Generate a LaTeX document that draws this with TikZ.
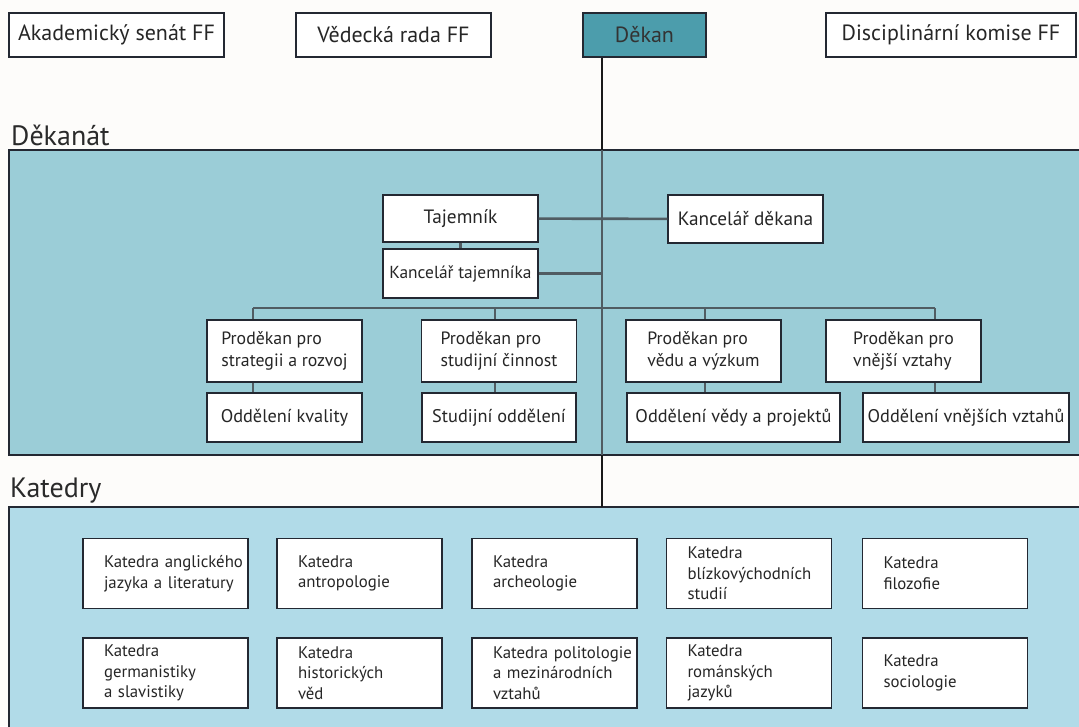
\documentclass[tikz,border=0pt]{standalone}
\usepackage{fontspec}
\setmainfont{PT Sans}

\definecolor{paper}{HTML}{FDFCFA}
\definecolor{dekfill}{HTML}{9BCDD7}
\definecolor{katfill}{HTML}{B1DBE8}
\definecolor{dekanfill}{HTML}{4C9DAC}
\definecolor{boxline}{HTML}{232832}
\definecolor{linkgray}{HTML}{505C62}
\definecolor{headtext}{HTML}{2A2A2A}

\newcommand{\nohyph}{\hyphenpenalty=10000\relax\hbadness=10000\relax\hfuzz=30pt\relax}

\begin{document}
\begin{tikzpicture}[x=1pt,y=-1pt,
  box/.style={draw=boxline,fill=white,line width=1.3pt,inner sep=0pt,text=black!85},
  topbox/.style={box,minimum height=44pt,font=\fontsize{22}{26}\selectfont},
  midbox/.style={box,minimum width=155pt,minimum height=48pt,font=\fontsize{19.3}{23}\selectfont},
  probox/.style={box,minimum width=155pt,minimum height=62pt,align=left,font=\fontsize{17.8}{22}\selectfont},
  oddbox/.style={box,minimum height=49pt,font=\fontsize{18.3}{22}\selectfont},
  katbox/.style={box,minimum height=70pt,text width=123pt,inner xsep=21pt,align=left,
    font=\fontsize{16.8}{20.7}\selectfont\nohyph},
  panel/.style={draw=boxline,line width=2.4pt},
  heading/.style={anchor=base west,inner sep=0pt,font=\fontsize{28}{30}\selectfont,text=headtext},
  link/.style={draw=linkgray,line width=2.6pt},
  main/.style={draw=black!90,line width=2.6pt}]

\clip (0,0) rectangle (1079,726);
\fill[paper] (0,0) rectangle (1079,726);

\draw[panel,fill=dekfill] (9,150) rectangle (1090,455);
\draw[panel,fill=katfill] (9,507) rectangle (1090,740);

\node[heading] (dekanat) at (11,145) {Děkanát};
\node[heading] (katedry) at (10,497) {Katedry};

\node[topbox,minimum width=215pt] (senat) at (116.5,35) {Akademický senát FF};
\node[topbox,minimum width=195pt] (rada) at (393.5,35) {Vědecká rada FF};
\node[topbox,minimum width=123pt,fill=dekanfill,text=black!80] (dekan) at (644.5,35) {Děkan};
\node[topbox,minimum width=250pt] (komise) at (951,35) {Disciplinární komise FF};

\coordinate (dtop) at (602,150);
\coordinate (dbot) at (602,455);
\coordinate (ktop) at (602,507);
\coordinate (b1) at (253,308);
\coordinate (b2) at (495,308);
\coordinate (b3) at (705,308);
\coordinate (b4) at (935,308);

\node[midbox,minimum height=47pt] (tajemnik) at (460.5,218.5) {Tajemník};
\node[midbox,minimum height=49pt,font=\fontsize{17.4}{20}\selectfont] (kanctaj) at (460.5,273.5) {Kancelář tajemníka};
\node[midbox] (kancdekan) at (745.5,219) {Kancelář děkana};

\node[probox] (pro1) at (284.5,351) {Proděkan pro\\strategii a rozvoj};
\node[probox] (pro2) at (499,351) {Proděkan pro\\studijní činnost};
\node[probox] (pro3) at (703.5,351) {Proděkan pro\\vědu a výzkum};
\node[probox] (pro4) at (903.5,351) {Proděkan pro\\vnější vztahy};

\node[oddbox,minimum width=155pt] (odd1) at (284.5,417.5) {Oddělení kvality};
\node[oddbox,minimum width=154pt] (odd2) at (499,417.5) {Studijní oddělení};
\node[oddbox,minimum width=213pt] (odd3) at (733.5,417.5) {Oddělení vědy a projektů};
\node[oddbox,minimum width=206pt] (odd4) at (966,417.5) {Oddělení vnějších vztahů};

\draw[main] (dekan.south -| dtop) -- (dtop);
\draw[link] (dtop) -- (dbot);
\draw[main] (dbot) -- (ktop);

\draw[link] (tajemnik) -- (kancdekan);
\draw[link] (tajemnik) -- (kanctaj);
\draw[link] (kanctaj.east) -- (kanctaj.east -| dtop);
\draw[link] (b1) -- (b4);
\draw[link] (b1) -- (b1 |- pro1.north);
\draw[link] (b2) -- (b2 |- pro2.north);
\draw[link] (b3) -- (b3 |- pro3.north);
\draw[link] (b4) -- (b4 |- pro4.north);
\draw[link] (b1 |- pro1.south) -- (b1 |- odd1.north);
\draw[link] (b2 |- pro2.south) -- (b2 |- odd2.north);
\draw[link] (b3 |- pro3.south) -- (b3 |- odd3.north);
\draw[link] (b4 |- pro4.south) -- (b4 |- odd4.north);

\node[katbox] (anglistika) at (165.5,573.5) {Katedra~anglického\\jazyka~a~literatury};
\node[katbox] (antropologie) at (359.5,573.5) {Katedra\\antropologie};
\node[katbox] (archeologie) at (554.5,573.5) {Katedra\\archeologie};
\node[katbox] (blizkovychod) at (749,573.5) {Katedra\\blízkovýchodních\\studií};
\node[katbox] (filozofie) at (945,573.5) {Katedra\\filozofie};

\node[katbox] (germanistika) at (165.5,673) {Katedra\\germanistiky\\a slavistiky};
\node[katbox] (historie) at (359.5,673) {Katedra\\historických\\věd};
\node[katbox] (politologie) at (554.5,673) {Katedra~politologie\\a~mezinárodních\\vztahů};
\node[katbox] (romanistika) at (749,673) {Katedra\\románských\\jazyků};
\node[katbox] (sociologie) at (945,673) {Katedra\\sociologie};
\end{tikzpicture}
\end{document}
